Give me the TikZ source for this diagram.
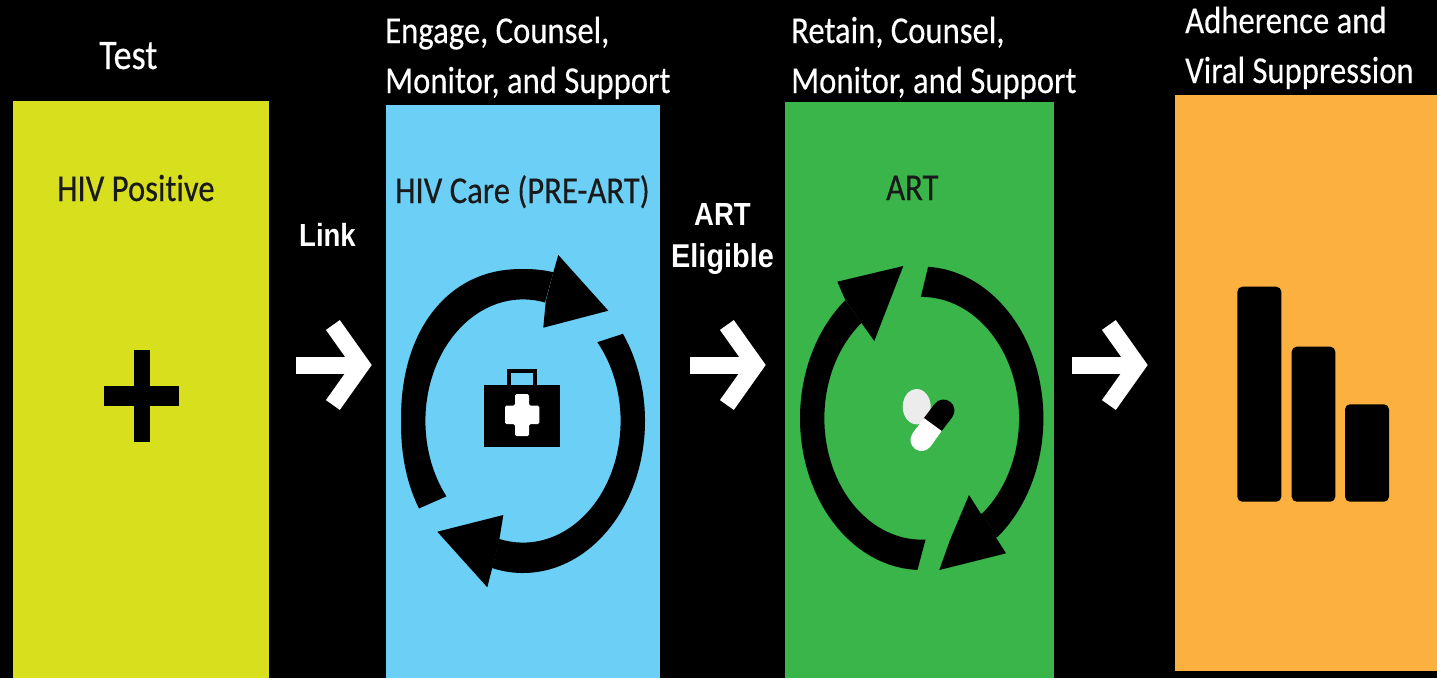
\documentclass[tikz,border=0pt]{standalone}
\usepackage{fontspec}
\usetikzlibrary{arrows.meta}
\setmainfont{Carlito}
\newfontfamily\labfont[FakeStretch=0.86,FakeBold=0.3,Ligatures=NoCommon]{Carlito}
\newfontfamily\linkfont[FakeStretch=0.86]{Liberation Sans Bold}
\newfontfamily\eligfont[FakeStretch=0.875]{Liberation Sans Bold}
\definecolor{limebox}{HTML}{D8DF1D}
\definecolor{bluebox}{HTML}{6CCFF6}
\definecolor{greenbox}{HTML}{39B54A}
\definecolor{orangebox}{HTML}{FBB040}
\newcommand{\ringarc}[9]{%
  \fill[black] plot[domain=#5:#6,samples=70,variable=\t] ({#1+(#3)*sign(cos(\t))*(abs(cos(\t))+0.0001)^#9},{#2+(#4)*sign(sin(\t))*(abs(sin(\t))+0.0001)^#9})
    -- plot[domain=#7:#8,samples=70,variable=\t] ({#1+(#3)*0.8*cos(\t)},{#2+(#4)*0.8*sin(\t)}) -- cycle;}
\tikzset{
  box/.style={anchor=north west,inner sep=0pt,outer sep=0pt,draw=none},
  whitetxt/.style={text=white,anchor=base west,inner sep=0pt,align=left,font=\labfont\fontsize{38}{50}\selectfont},
  blacktxt/.style={text=black!90,anchor=base west,inner sep=0pt,font=\labfont\fontsize{38}{46}\selectfont},
  boldtxt/.style={text=white,anchor=base west,inner sep=0pt,font=\linkfont\fontsize{32}{40}\selectfont},
  flow/.style={draw=white,line width=17pt,-{Straight Barb[length=28.4pt,width=80pt,line width=17pt]}},
  bar/.style={fill=black,rounded corners=5pt},
  pillpart/.style={line width=22pt}
}
\begin{document}
\begin{tikzpicture}[x=1pt,y=-1pt]
\fill[black] (0,0) rectangle (1437,678);
\useasboundingbox (0,0) rectangle (1437,678);
% boxes
\node[box,fill=limebox,minimum width=256pt,minimum height=577pt] (hivpos) at (13,101) {};
\node[box,fill=bluebox,minimum width=274pt,minimum height=573pt] (care) at (386,105) {};
\node[box,fill=greenbox,minimum width=269pt,minimum height=576pt] (art) at (785,102) {};
\node[box,fill=orangebox,minimum width=262pt,minimum height=576pt] (supp) at (1175,95) {};
% top labels
\node[whitetxt,font=\labfont\fontsize{42}{50}\selectfont] (ltest) at (99,69) {Test};
\node[whitetxt] (lengage) at (385,93) {Engage, Counsel,\\Monitor, and Support};
\node[whitetxt] (lretain) at (791,93) {Retain, Counsel,\\Monitor, and Support};
\node[whitetxt] (ladh) at (1185,83) {Adherence and\\Viral Suppression};
% box labels
\node[blacktxt] (tpos) at (57,201) {HIV Positive};
\node[blacktxt] (tcare) at (395,203) {HIV Care (PRE-ART)};
\node[blacktxt] (tart) at (886,200) {ART};
% link labels
\node[boldtxt] (llink) at (299,246) {Link};
\node[boldtxt] (lart) at (694,225) {ART};
\node[boldtxt,font=\eligfont\fontsize{33}{40}\selectfont] (lelig) at (671,267) {Eligible};
% white arrows
\coordinate (a1s) at (296,365); \coordinate (a1e) at (371.7,365);
\coordinate (a2s) at (690,365); \coordinate (a2e) at (765.7,365);
\coordinate (a3s) at (1072,365); \coordinate (a3e) at (1147.7,365);
\draw[flow] (a1s) -- (a1e);
\draw[flow] (a2s) -- (a2e);
\draw[flow] (a3s) -- (a3e);
% plus
\fill[black] (134,350) rectangle (150,441.7);
\fill[black] (104.3,385.7) rectangle (178.7,406);
% blue cycle
\ringarc{523}{421}{122}{152}{147}{282.5}{283}{141.7}{0.91}
\fill[black] (558.3,255) -- (608.3,310.7) -- (543.3,327.7) -- (545.7,301.7) -- (553.3,272.3) -- cycle;
\ringarc{523}{421}{122}{152}{-35}{104.7}{104}{-40.4}{1}
\fill[black] (503.3,515) -- (437.3,531.7) -- (487.3,587.3) -- (491.7,570) -- (499,541.7) -- cycle;
% briefcase
\fill[black] (484,385) rectangle (560.3,447);
\draw[black,line width=4pt] (509.3,385) -- (509.3,371.3) -- (534.7,371.3) -- (534.7,385);
\fill[white,rounded corners=1.5pt] (515,394) -- (529,394) -- (529,405.7) -- (539.3,405.7) -- (539.3,424) -- (529,424) -- (529,436) -- (515,436) -- (515,424) -- (505,424) -- (505,405.7) -- (515,405.7) -- cycle;
% green cycle
\ringarc{921.7}{418.3}{121.7}{151.7}{-87}{51.5}{51.8}{-90.5}{1}
\fill[black] (969,495) -- (1006,553.3) -- (939.3,570) -- (950,540) -- cycle;
\fill[black] (981.7,513.3) -- (997.3,536.7) -- (985,545) -- (970,520) -- cycle;
\ringarc{921.7}{418.3}{121.7}{151.7}{92}{231.2}{231.8}{87.7}{1}
\fill[black] (837.3,281.7) -- (903.3,266) -- (874.3,341) -- (861.7,323.3) -- (845,299.3) -- cycle;
% pills
\fill[gray!15] (916.7,406.7) ellipse [x radius=14pt,y radius=17.7pt];
\coordinate (capm) at (932.8,424.5);
\coordinate (capc) at (943.5,410.5);
\coordinate (capb) at (921.5,440);
\draw[black,pillpart,line cap=round] (capc) -- (capm);
\draw[white,pillpart,line cap=round] (capb) -- (925,435);
\draw[white,pillpart] (capb) -- (capm);
% bars
\fill[bar] (1237.3,286.7) rectangle (1281.3,501.7);
\fill[bar] (1291.7,346.7) rectangle (1335.3,501.7);
\fill[bar] (1345,404.3) rectangle (1389,501.7);
\end{tikzpicture}
\end{document}
